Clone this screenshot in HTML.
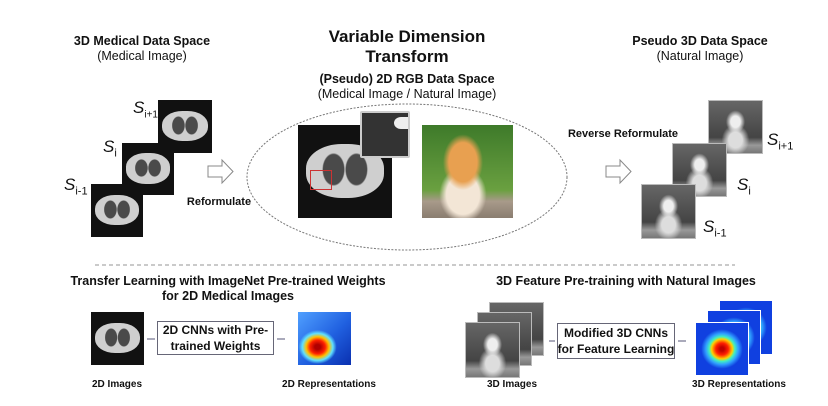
<!DOCTYPE html>
<html><head><meta charset="utf-8"><style>
body{margin:0;width:828px;height:406px;background:#fff;position:relative;overflow:hidden;font-family:"Liberation Sans",Arial,sans-serif;color:#111}
.t{position:absolute;white-space:nowrap;text-align:center;transform:translateX(-50%)}
.b{font-weight:bold}
.ct{position:absolute;background:#111;overflow:hidden}
.ct:before{content:"";position:absolute;left:8%;top:20%;width:84%;height:58%;background:#cfcfcf;border-radius:45%}
.ct:after{content:"";position:absolute;left:22%;top:28%;width:56%;height:40%;background:radial-gradient(ellipse 22% 45% at 28% 50%,#4a4a4a 90%,transparent 100%),radial-gradient(ellipse 22% 45% at 72% 50%,#4a4a4a 90%,transparent 100%)}
.cat{position:absolute;background:radial-gradient(ellipse 18% 22% at 50% 40%,#eee 50%,transparent 100%),radial-gradient(ellipse 26% 30% at 50% 75%,#ddd 50%,transparent 100%),linear-gradient(#666,#444 70%,#999 85%,#777);border:1px solid #bbb}
.catc{position:absolute;background:radial-gradient(ellipse 22% 30% at 45% 40%,#e8a050 70%,transparent 100%),radial-gradient(ellipse 26% 30% at 45% 75%,#f3e6d6 70%,transparent 100%),linear-gradient(#3e7a2a,#6aa040 70%,#a89a8a 82%,#8a7d70)}
.hm{position:absolute;background:radial-gradient(ellipse 36% 32% at 37% 66%,#b00000 15%,#ff2000 40%,#ffc000 60%,#60e0ff 80%,transparent 100%),linear-gradient(135deg,#50a0ff,#2060e0 55%,#0a30b0)}
.hm3{position:absolute;background:radial-gradient(ellipse 40% 38% at 50% 50%,#c00000 10%,#ff2000 30%,#ffd000 50%,#40f0c0 62%,#30a0ff 78%,#1040e0 100%);border:1px solid #fff}
.box{position:absolute;border:1.5px solid #667;background:#fff;display:flex;align-items:center;justify-content:center;text-align:center;font-weight:bold;font-size:12px;line-height:16px;white-space:nowrap}
.s{position:absolute;font-size:17px;font-style:italic}
.s sub{font-style:normal;font-size:11px}
</style></head><body>
<svg width="828" height="406" style="position:absolute;left:0;top:0">
<ellipse cx="407" cy="177" rx="160" ry="73" fill="none" stroke="#777" stroke-width="1" stroke-dasharray="2,1.5"/>
<line x1="95" y1="265" x2="735" y2="265" stroke="#aaa" stroke-width="1.2" stroke-dasharray="4,3"/>
<path d="M208,166 h14 v-6 l11,11.5 l-11,11.5 v-6 h-14z" fill="#fff" stroke="#888"/>
<path d="M606,166 h14 v-6 l11,11.5 l-11,11.5 v-6 h-14z" fill="#fff" stroke="#888"/>
<line x1="335" y1="178" x2="362" y2="150" stroke="#444" stroke-dasharray="3,2"/>
<line x1="335" y1="178" x2="405" y2="150" stroke="#444" stroke-dasharray="3,2"/>
<g stroke="#557" stroke-width="1"><line x1="147" y1="339" x2="155" y2="339"/><line x1="277" y1="339" x2="285" y2="339"/><line x1="549" y1="341" x2="555" y2="341"/><line x1="678" y1="341" x2="686" y2="341"/></g>
</svg>
<div class="t b" style="left:142px;top:34px;font-size:12.5px">3D Medical Data Space</div>
<div class="t" style="left:142px;top:49px;font-size:12.5px">(Medical Image)</div>
<div class="t b" style="left:407px;top:27px;font-size:17px;line-height:20px">Variable Dimension<br>Transform</div>
<div class="t b" style="left:407px;top:72px;font-size:12.5px">(Pseudo) 2D RGB Data Space</div>
<div class="t" style="left:407px;top:87px;font-size:12.5px">(Medical Image / Natural Image)</div>
<div class="t b" style="left:700px;top:34px;font-size:12.5px">Pseudo 3D Data Space</div>
<div class="t" style="left:700px;top:49px;font-size:12.5px">(Natural Image)</div>
<div class="ct" style="left:158px;top:100px;width:54px;height:53px"></div>
<div class="ct" style="left:122px;top:143px;width:52px;height:52px"></div>
<div class="ct" style="left:91px;top:184px;width:52px;height:53px"></div>
<div class="s" style="left:133px;top:98px">S<sub style="font-size:10px">i+1</sub></div>
<div class="s" style="left:103px;top:137px">S<sub>i</sub></div>
<div class="s" style="left:64px;top:175px">S<sub>i-1</sub></div>
<div class="t b" style="left:219px;top:196px;font-size:11px">Reformulate</div>
<div class="ct" style="left:298px;top:125px;width:94px;height:93px"></div>
<div style="position:absolute;left:310px;top:170px;width:20px;height:18px;border:1px solid #c33"></div>
<div style="position:absolute;left:360px;top:111px;width:46px;height:43px;background:#333;border:2px solid #ccc;border-radius:2px"><div style="position:absolute;right:0;top:4px;width:14px;height:12px;background:#eee;border-radius:50% 0 0 50%"></div></div>
<div class="catc" style="left:422px;top:125px;width:91px;height:93px"></div>
<div class="t b" style="left:623px;top:128px;font-size:11px">Reverse Reformulate</div>
<div class="cat" style="left:708px;top:100px;width:53px;height:52px"></div>
<div class="cat" style="left:672px;top:143px;width:53px;height:52px"></div>
<div class="cat" style="left:641px;top:184px;width:53px;height:53px"></div>
<div class="s" style="left:767px;top:130px">S<sub>i+1</sub></div>
<div class="s" style="left:737px;top:175px">S<sub>i</sub></div>
<div class="s" style="left:703px;top:217px">S<sub>i-1</sub></div>
<div class="t b" style="left:228px;top:274px;font-size:12.5px;line-height:15px">Transfer Learning with ImageNet Pre-trained Weights<br>for 2D Medical Images</div>
<div class="t b" style="left:626px;top:274px;font-size:12.5px">3D Feature Pre-training with Natural Images</div>
<div class="ct" style="left:91px;top:312px;width:53px;height:53px"></div>
<div class="box" style="left:157px;top:321px;width:115px;height:32px">2D CNNs with Pre-<br>trained Weights</div>
<div class="hm" style="left:298px;top:312px;width:53px;height:53px"></div>
<div class="t b" style="left:117px;top:379px;font-size:10px">2D Images</div>
<div class="t b" style="left:329px;top:379px;font-size:10px">2D Representations</div>
<div class="cat" style="left:489px;top:302px;width:53px;height:52px"></div>
<div class="cat" style="left:477px;top:312px;width:53px;height:52px"></div>
<div class="cat" style="left:465px;top:322px;width:53px;height:54px"></div>
<div class="box" style="left:557px;top:323px;width:116px;height:34px">Modified 3D CNNs<br>for Feature Learning</div>
<div class="hm3" style="left:719px;top:300px;width:52px;height:53px"></div>
<div class="hm3" style="left:707px;top:310px;width:52px;height:53px"></div>
<div class="hm3" style="left:695px;top:322px;width:52px;height:52px"></div>
<div class="t b" style="left:512px;top:379px;font-size:10px">3D Images</div>
<div class="t b" style="left:739px;top:379px;font-size:10px">3D Representations</div>
</body></html>
